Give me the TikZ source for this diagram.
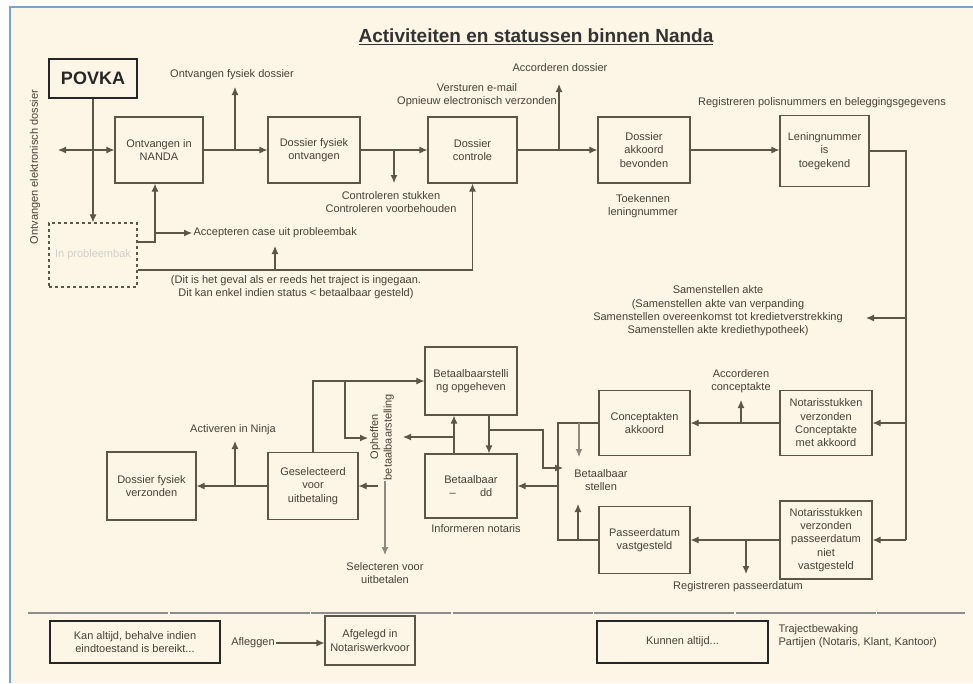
\documentclass[tikz,border=0pt]{standalone}
\usepackage{fontspec}
\setmainfont{Liberation Sans}
\usetikzlibrary{arrows.meta}

\definecolor{paper}{RGB}{253,245,229}
\definecolor{frameblue}{RGB}{120,165,205}
\definecolor{linec}{RGB}{95,85,70}
\definecolor{textc}{RGB}{70,65,55}

\tikzset{
  box/.style={draw=linec, line width=1.2pt, minimum width=90, minimum height=66,
    align=center, text=textc, inner sep=2pt},
  thickbox/.style={draw=black!85, line width=2.6pt, align=center, text=textc},
  lbl/.style={text=textc, align=center, inner sep=1pt},
}

\begin{document}
\begin{tikzpicture}[x=1pt,y=-1pt,>={Latex[length=8pt,width=7pt]},
    font=\fontsize{11}{13.3}\selectfont, line width=1.1pt]
    \useasboundingbox (0,0) rectangle (973,683);
    \fill[white] (0,0) rectangle (973,683);
    \fill[paper] (10,7) rectangle (973,683);
    \draw[frameblue,line width=1.5pt] (10,683) -- (10,7) -- (973,7);

    \node[font=\bfseries\fontsize{19}{22}\selectfont,text=black!80] (title) at (536,37)
        {\underline{Activiteiten en statussen binnen Nanda}};

    % upper row
    \node[thickbox,minimum width=88,minimum height=39,font=\bfseries\fontsize{18}{20}\selectfont,text=black!85] (povka) at (93,78.5) {POVKA};
    \node[box,minimum width=88] (ontv) at (159,150) {Ontvangen in\\NANDA};
    \node[box,minimum width=92] (fysiek) at (314,150) {Dossier fysiek\\ontvangen};
    \node[box,minimum width=89] (controle) at (472.5,150) {Dossier\\controle};
    \node[box,minimum width=92] (akkoord) at (644,150) {Dossier\\akkoord\\bevonden};
    \node[box,minimum width=89,minimum height=71] (lening) at (824.5,151) {Leningnummer\\is\\toegekend};
    \node[box,dashed,minimum width=88,minimum height=64,text=textc!25] (probleem) at (93,255) {In probleembak};

    \node[lbl,rotate=90] (elektr) at (35,167) {Ontvangen elektronisch dossier};
    \node[lbl] (fysieklbl) at (232,75) {Ontvangen fysiek dossier};
    \node[lbl] (email) at (477,95) {Versturen e-mail\\Opnieuw electronisch verzonden};
    \node[lbl] (accdos) at (560,68) {Accorderen dossier};
    \node[lbl] (polis) at (822,103) {Registreren polisnummers en beleggingsgegevens};
    \node[lbl] (toek) at (643,206) {Toekennen\\leningnummer};
    \node[lbl] (contr) at (391,202) {Controleren stukken\\Controleren voorbehouden};
    \node[lbl,anchor=west] (accept) at (192,233) {Accepteren case uit probleembak};
    \node[lbl] (geval) at (296,287) {(Dit is het geval als er reeds het traject is ingegaan.\\Dit kan enkel indien status < betaalbaar gesteld)};

    \coordinate (j1) at (93,150);
    \coordinate (eleft) at (58,150);
    \coordinate (j2) at (235,150);
    \coordinate (up1) at (235,87);
    \coordinate (j3) at (394,150);
    \coordinate (dn1) at (394,183);
    \coordinate (j4) at (559,150);
    \coordinate (up2) at (559,84);
    \coordinate (p1) at (155,242);
    \coordinate (p2) at (155,233);
    \coordinate (p3) at (155,270);
    \coordinate (p4) at (275,270);
    \coordinate (p5) at (275,246);

    \draw[->,linec] (povka.south) -- (probleem.north);
    \draw[->,linec] (j1) -- (ontv.west);
    \draw[->,linec] (j1) -- (eleft);
    \draw[->,linec] (ontv) -- (fysiek);
    \draw[->,linec] (j2) -- (up1);
    \draw[->,linec] (fysiek) -- (controle);
    \draw[->,linec] (j3) -- (dn1);
    \draw[->,linec] (controle) -- (akkoord);
    \draw[->,linec] (j4) -- (up2);
    \draw[->,linec] (akkoord.east) -- (akkoord.east -| lening.west);
    \draw[->,linec] (probleem.east |- p1) -- (p1) -- (p1 |- ontv.south);
    \draw[->,linec] (p2) -- (accept.west);
    \draw[->,linec] (probleem.east |- p3) -| (controle.south);
    \draw[->,linec] (p4) -- (p5);

    % right column
    \node[box,minimum width=92,minimum height=65] (nconcept) at (826,423) {Notarisstukken\\verzonden\\Conceptakte\\met akkoord};
    \node[box,minimum width=92,minimum height=78] (npasseer) at (826,540) {Notarisstukken\\verzonden\\passeerdatum\\niet\\vastgesteld};
    \node[box,minimum width=91,minimum height=65] (concept) at (644.5,423) {Conceptakten\\akkoord};
    \node[box,minimum width=91,minimum height=67] (passeer) at (644.5,540) {Passeerdatum\\vastgesteld};

    \node[lbl] (samen) at (718,311) {Samenstellen akte\\(Samenstellen akte van verpanding\\Samenstellen overeenkomst tot kredietverstrekking\\Samenstellen akte krediethypotheek)};
    \node[lbl] (accconc) at (741,381) {Accorderen\\conceptakte};
    \node[lbl] (regpas) at (738,587) {Registreren passeerdatum};
    \node[lbl] (bst) at (601,480) {Betaalbaar\\stellen};

    \coordinate (rt) at (906,540);
    \coordinate (r1) at (906,318);
    \coordinate (r2) at (906,423);
    \coordinate (samenpt) at (866,318);
    \coordinate (j5) at (741,423);
    \coordinate (up3) at (741,400);
    \coordinate (j6) at (746,540);
    \coordinate (dn2) at (746,574);
    \coordinate (lk1) at (558,423);
    \coordinate (lk2) at (558,540);
    \coordinate (lk3) at (558,486);
    \coordinate (bs1) at (579,423);
    \coordinate (bs2) at (579,457);
    \coordinate (bs4) at (578,540);
    \coordinate (bs5) at (578,504);

    \draw[linec] (lening.east) -| (rt);
    \draw[->,linec] (r1) -- (samenpt);
    \draw[->,linec] (r2) -- (nconcept.east);
    \draw[->,linec] (rt) -- (npasseer.east);
    \draw[->,linec] (nconcept) -- (concept);
    \draw[->,linec] (j5) -- (up3);
    \draw[->,linec] (npasseer) -- (passeer);
    \draw[->,linec] (j6) -- (dn2);
    \draw[linec] (concept.west) -- (lk1) -- (lk2) -- (passeer.west);
    \draw[->,linec!70] (bs1) -- (bs2);
    \draw[->,linec] (bs4) -- (bs5);

    % lower middle
    \node[box,minimum width=92,minimum height=68] (opgeheven) at (471,381) {Betaalbaarstelli\\ng opgeheven};
    \node[box,minimum width=92,minimum height=64] (betaalbaar) at (471,486) {Betaalbaar\\--\hspace{2.2em}dd};
    \node[box,minimum width=90,minimum height=67] (geselect) at (313,486) {Geselecteerd\\voor\\uitbetaling};
    \node[box,minimum width=89,minimum height=68] (verzonden) at (151.5,486) {Dossier fysiek\\verzonden};

    \node[lbl] (inform) at (476,529) {Informeren notaris};
    \node[lbl,rotate=90] (opheffen) at (382,437) {Opheffen\\betaalbaarstelling};
    \node[lbl] (selec) at (385,573) {Selecteren voor\\uitbetalen};
    \node[lbl] (activ) at (233,430) {Activeren in Ninja};

    \coordinate (ob2) at (489,430);
    \coordinate (ob3) at (543,430);
    \coordinate (ob4) at (543,468);
    \coordinate (bs3) at (563,468);
    \coordinate (b1) at (454,437);
    \coordinate (b2) at (403,437);
    \coordinate (g1) at (345,381);
    \coordinate (g2) at (368,438);
    \coordinate (o1) at (378,486);
    \coordinate (o2) at (385,481);
    \coordinate (o3) at (385,555);
    \coordinate (j7) at (235,486);
    \coordinate (up4) at (235,441);

    \draw[->,linec] (lk3) -- (betaalbaar.east);
    \draw[->,linec] ([xshift=18]opgeheven.south) -- ([xshift=18]betaalbaar.north);
    \draw[->,linec] ([xshift=-17]betaalbaar.north) -- ([xshift=-17]opgeheven.south);
    \draw[->,linec] (ob2) -- (ob3) -- (ob4) -- (bs3);
    \draw[->,linec] (b1) -- (b2);
    \draw[->,linec] (geselect.north) |- (opgeheven.west);
    \draw[->,linec] (g1) |- (g2);
    \draw[->,linec] (o1) -- (geselect.east);
    \draw[->,linec!70] (o2) -- (o3);
    \draw[->,linec] (geselect) -- (verzonden);
    \draw[->,linec] (j7) -- (up4);

    % legend
    \draw[black!45,line width=1.6pt,dash pattern=on 140pt off 1.5pt] (28,613) -- (965,613);
    \node[thickbox,minimum width=170,minimum height=42] (kan) at (135,642) {Kan altijd, behalve indien\\eindtoestand is bereikt...};
    \node[box,minimum width=90,minimum height=49] (afgelegd) at (370,640.5) {Afgelegd in\\Notariswerkvoor};
    \node[lbl] (afl) at (253,643) {Afleggen};
    \node[thickbox,minimum width=171,minimum height=42] (kunnen) at (682.5,642) {Kunnen altijd...};
    \node[lbl,anchor=west,align=left] (traject) at (777,636) {Trajectbewaking\\Partijen (Notaris, Klant, Kantoor)};

    \draw[->,linec] (afl.east) -- (afl.east -| afgelegd.west);
\end{tikzpicture}
\end{document}
